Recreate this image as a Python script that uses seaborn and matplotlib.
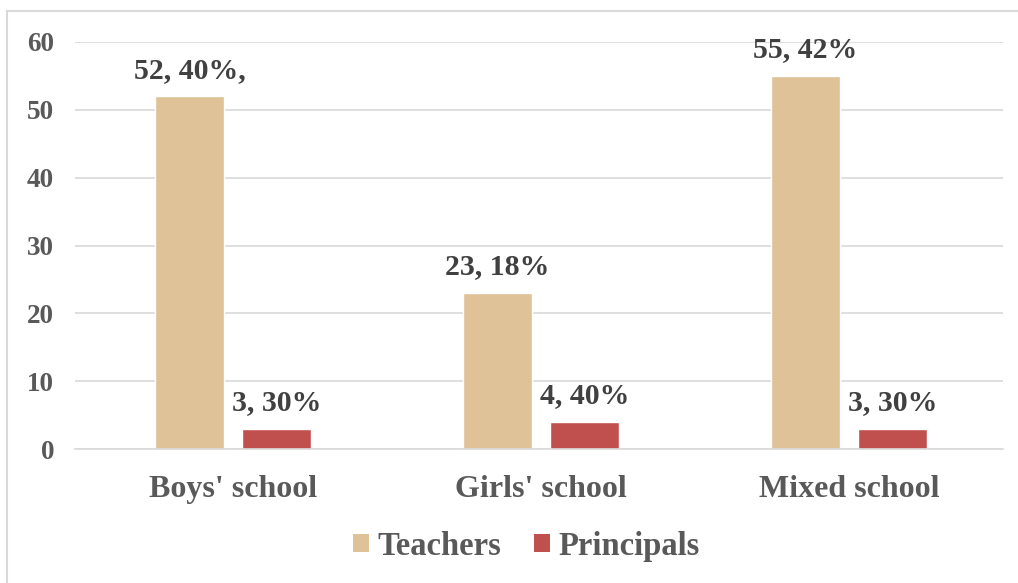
import matplotlib
matplotlib.use("Agg")
import matplotlib.pyplot as plt
import seaborn as sns
import pandas as pd
from matplotlib.patches import Rectangle, Patch

categories = ["Boys' school", "Girls' school", "Mixed school"]
series = ["Teachers", "Principals"]
teachers = [52, 23, 55]
principals = [3, 4, 3]
teacher_labels = ["52, 40%,", "23, 18%", "55, 42%"]
principal_labels = ["3, 30%", "4, 40%", "3, 30%"]
yticks = [0, 10, 20, 30, 40, 50, 60]

df = pd.DataFrame({
    "school": categories * 2,
    "group": [series[0]] * 3 + [series[1]] * 3,
    "value": teachers + principals,
})

sns.set_theme(style="white")
plt.rcParams["font.family"] = ["Liberation Serif", "DejaVu Serif"]
plt.rcParams["font.weight"] = "bold"

fig = plt.figure(figsize=(10.18, 5.83), dpi=100)
ax = fig.add_axes([0.0737, 0.2298, 0.9115, 0.6982])

palette = {"Teachers": "#DFC297", "Principals": "#C0504D"}
sns.barplot(data=df, x="school", y="value", hue="group", hue_order=series,
            order=categories, palette=palette, width=0.566, gap=0.21,
            saturation=1, ax=ax, legend=False)

ax.set_xlim(-0.513, 2.5)
ax.set_ylim(0, 60)
ax.set_yticks(yticks)
ax.set_yticklabels([str(t) for t in yticks], fontsize=19.5, color="#595959", fontweight="bold")
ax.tick_params(axis="y", length=0, pad=15)
ax.tick_params(axis="x", length=0, pad=19, labelsize=23, labelcolor="#595959")
for lab in ax.get_xticklabels():
    lab.set_fontweight("bold")
ax.set_xlabel("")
ax.set_ylabel("")
ax.yaxis.grid(True, color="#D9D9D9", linewidth=1.2)
ax.set_axisbelow(True)
for s in ["top", "right", "left"]:
    ax.spines[s].set_visible(False)
ax.spines["bottom"].set_color("#D9D9D9")
ax.spines["bottom"].set_linewidth(1.2)

for cont, labs in zip(ax.containers, [teacher_labels, principal_labels]):
    ax.bar_label(cont, labels=labs, padding=9, fontsize=21.5, fontweight="bold",
                 color="#404040")

handles = [Patch(facecolor=palette[s], edgecolor="none", label=s) for s in series]
fig.legend(handles=handles, loc="center", bbox_to_anchor=(0.517, 0.063), ncol=2,
           frameon=False, handlelength=0.49, handleheight=0.49,
           handletextpad=0.28, columnspacing=0.98,
           labelcolor="#595959", prop={"weight": "bold", "size": 23.5})

fig.patches.append(Rectangle((7 / 1018, -0.05), 1.2, 1 - 11 / 583 + 0.05,
                             transform=fig.transFigure, fill=False,
                             edgecolor="#D9D9D9", linewidth=1.5, zorder=0))

fig.savefig("out.png", dpi=100)
